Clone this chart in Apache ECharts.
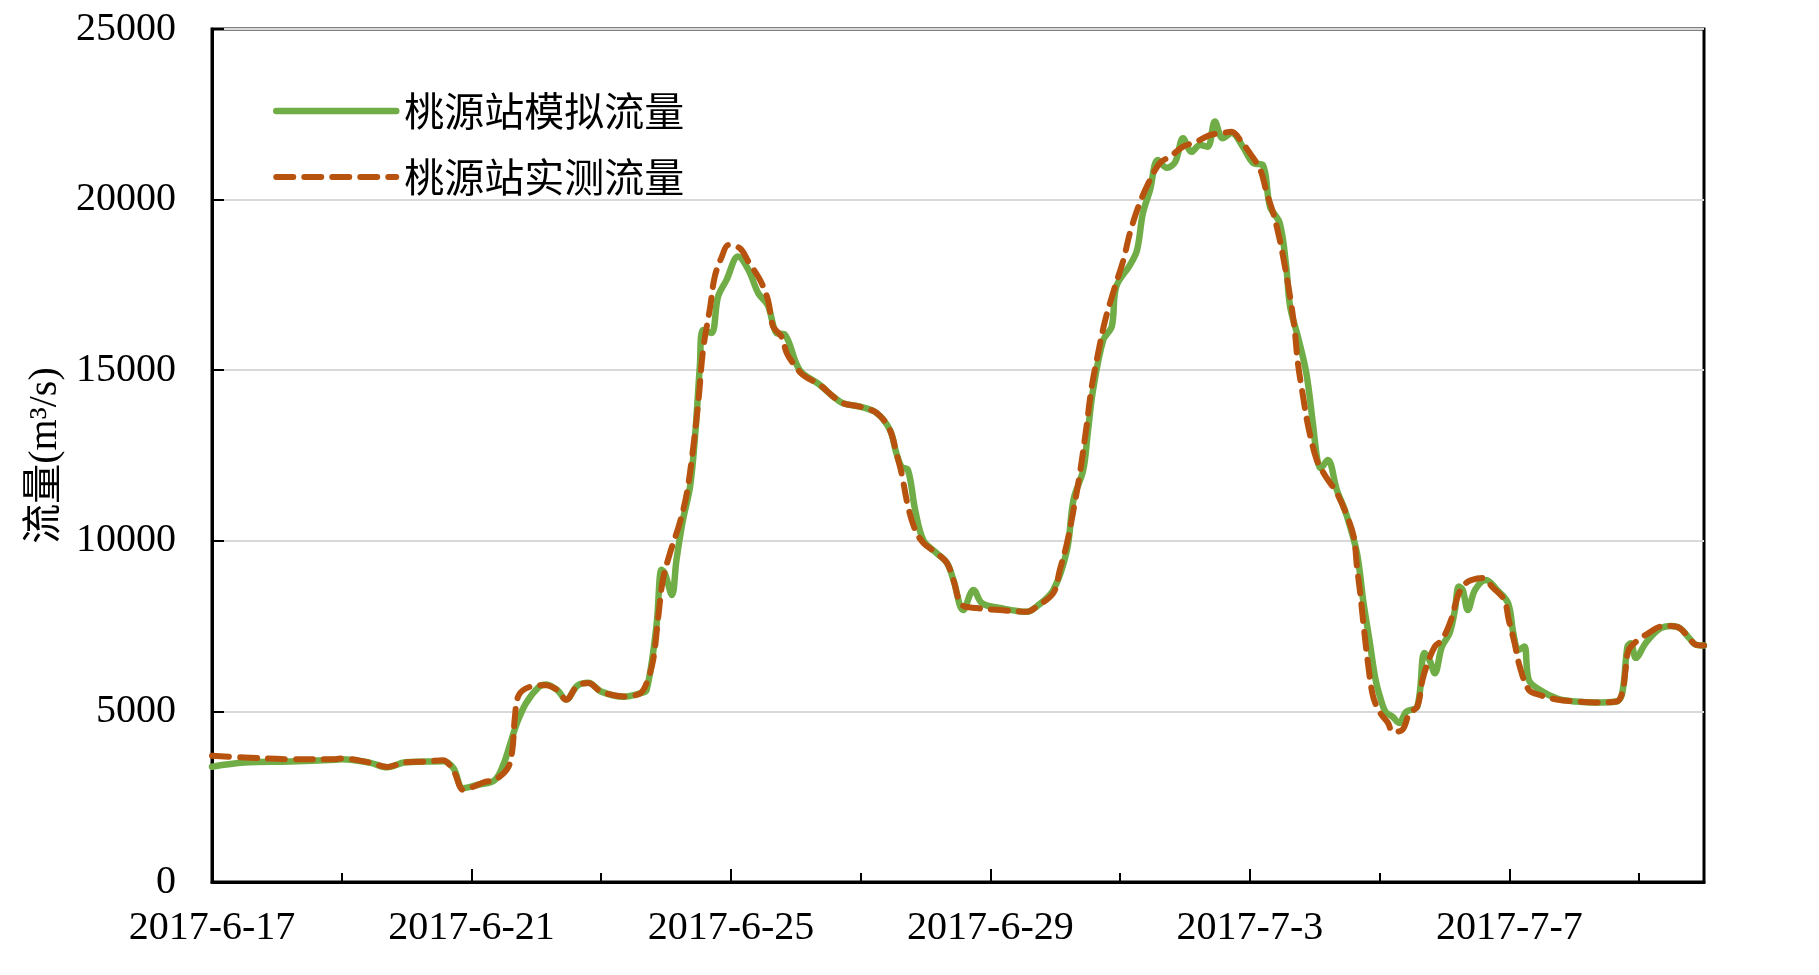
<!DOCTYPE html>
<html>
<head>
<meta charset="utf-8">
<script src="https://cdn.jsdelivr.net/npm/echarts@6/dist/echarts.min.js"></script>
<style>html,body{margin:0;padding:0;background:#fff}#c{width:1819px;height:975px}</style>
</head>
<body>
<div id="c"></div>
<script>
// x values are days since 2017-6-17 00:00
const xTickLabels = ['2017-6-17','2017-6-21','2017-6-25','2017-6-29','2017-7-3','2017-7-7'];
const yTicks = [0, 5000, 10000, 15000, 20000, 25000];
const seriesNames = ['桃源站模拟流量', '桃源站实测流量'];

const simDays = [0,0.5,1.2,1.9,2.0,2.43,2.7,2.98,3.3,3.56,3.72,3.87,4.1,4.36,4.5,4.6,4.7,4.84,5.04,5.15,5.32,5.46,5.63,5.8,6.0,6.35,6.6,6.7,6.85,6.93,6.98,7.09,7.16,7.26,7.37,7.45,7.52,7.57,7.7,7.8,7.93,8.11,8.27,8.42,8.57,8.7,8.83,9.06,9.37,9.58,9.73,9.99,10.25,10.45,10.55,10.63,10.73,10.84,10.97,11.17,11.33,11.43,11.58,11.74,11.87,12.15,12.56,12.71,12.97,13.18,13.28,13.43,13.5,13.58,13.74,13.87,13.94,14.15,14.26,14.35,14.46,14.58,14.72,14.85,14.97,15.1,15.23,15.35,15.46,15.58,15.72,15.89,16.05,16.2,16.31,16.46,16.56,16.62,16.74,16.87,16.97,17.04,17.09,17.2,17.34,17.48,17.65,17.75,17.85,17.93,18.01,18.09,18.2,18.3,18.41,18.58,18.69,18.77,18.85,18.96,19.08,19.16,19.22,19.28,19.36,19.47,19.64,19.81,19.98,20.06,20.14,20.23,20.3,20.47,20.75,21.03,21.31,21.65,21.74,21.82,21.87,21.95,22.1,22.3,22.49,22.63,22.77,22.88,23.0];
const simFlow = [3380,3500,3530,3580,3600,3500,3360,3510,3530,3540,3340,2750,2850,2990,3480,4070,4650,5240,5720,5790,5630,5340,5750,5840,5580,5430,5530,5630,7480,9150,9050,8410,9440,10610,11590,13150,15100,16180,16090,17150,17640,18330,17940,17260,16900,16090,16040,15000,14570,14220,14030,13930,13740,13250,12570,12170,12070,10900,10000,9640,9350,8850,7970,8560,8170,8030,7920,8070,8560,9730,11200,12070,13150,14400,15890,16280,17450,18080,18520,19600,20280,21160,20930,21110,21800,21400,21600,21550,22290,21800,21950,21550,21070,21010,19790,19310,18030,16860,15980,14910,13450,12370,12130,12370,11490,10810,9640,8200,7000,6000,5400,4990,4840,4660,4990,5140,6710,6500,6120,6900,7300,7970,8660,8560,7970,8560,8850,8560,8170,7300,6800,6900,5920,5630,5370,5290,5260,5290,5540,6900,7000,6570,7000,7400,7500,7440,7150,6950,6930];

const obsDays = [0,0.5,1.2,1.9,2.0,2.43,2.7,2.98,3.3,3.56,3.73,3.87,3.97,4.22,4.36,4.56,4.63,4.67,4.73,4.9,5.15,5.32,5.46,5.63,5.8,6.0,6.35,6.6,6.7,6.8,6.88,6.95,7.06,7.21,7.32,7.42,7.5,7.57,7.68,7.75,7.86,7.96,8.14,8.27,8.45,8.57,8.65,8.78,8.86,8.96,9.11,9.37,9.58,9.73,9.99,10.25,10.45,10.55,10.63,10.73,10.84,10.97,11.17,11.33,11.43,11.56,11.79,12.15,12.56,12.71,12.97,13.07,13.18,13.28,13.38,13.48,13.56,13.66,13.77,13.92,14.05,14.15,14.28,14.41,14.61,14.77,14.97,15.18,15.38,15.54,15.72,15.85,16.0,16.16,16.26,16.36,16.46,16.54,16.62,16.69,16.74,16.82,16.9,17.03,17.17,17.34,17.48,17.6,17.65,17.7,17.76,17.82,17.9,18.01,18.13,18.2,18.35,18.46,18.58,18.66,18.74,18.85,18.96,19.1,19.22,19.33,19.41,19.58,19.75,19.92,19.99,20.08,20.16,20.3,20.47,20.75,21.03,21.31,21.65,21.74,21.79,21.84,21.98,22.15,22.32,22.49,22.63,22.77,22.88,23.0];
const obsFlow = [3700,3650,3600,3600,3620,3500,3370,3510,3530,3570,3230,2700,2750,2940,2990,3340,3870,4850,5480,5720,5770,5630,5340,5750,5830,5580,5440,5530,5830,6500,7780,8850,9640,10520,11400,12760,14130,15590,16860,17740,18330,18670,18570,18180,17640,17060,16280,15980,15500,15200,14860,14570,14220,14030,13930,13740,13250,12570,11980,11000,10320,9930,9640,9350,8850,8120,8030,7970,7920,8070,8470,9150,9930,10900,11990,13340,14500,15500,16470,17450,18230,19020,19790,20380,21070,21260,21550,21700,21890,21940,21990,21750,21360,20870,20190,19600,18820,18030,17150,16180,15200,14220,13340,12370,11880,11400,10810,10120,9240,8460,7390,6410,5430,4950,4660,4400,4460,4950,5140,5920,6410,6900,7090,7680,8460,8760,8850,8910,8620,8270,7680,7000,6310,5630,5480,5340,5290,5260,5290,5540,6210,6800,7090,7300,7480,7500,7440,7150,6950,6930];

const simData = simDays.map((d, i) => [d, simFlow[i]]);
const obsData = obsDays.map((d, i) => [d, obsFlow[i]]);

const serif = 'Liberation Serif, "Times New Roman", "Noto Sans CJK SC", serif';
const cjk = '"Noto Sans CJK SC", "Liberation Serif", serif';
const green = '#70AD47';
const brown = '#B8530F';
const simLine = {color: green, width: 6.5, cap: 'round', join: 'round'};
const obsLine = {color: brown, width: 6, type: [17, 11], cap: 'round', join: 'round'};

const chart = echarts.init(document.getElementById('c'), null, {renderer: 'canvas'});
chart.setOption({
  animation: false,
  backgroundColor: '#fff',
  grid: {left: 212, right: 115, top: 29, bottom: 93, show: true, borderColor: '#000', borderWidth: 3, backgroundColor: 'transparent'},
  legend: {
    orient: 'vertical', left: 268, top: 86, itemWidth: 120, itemHeight: 20, itemGap: 26,
    textStyle: {fontFamily: cjk, fontSize: 40, color: '#000', padding: [0, 0, 0, 3]},
    itemStyle: {opacity: 0},
    data: [
      {name: seriesNames[0], lineStyle: simLine, itemStyle: {opacity: 0}},
      {name: seriesNames[1], lineStyle: obsLine, itemStyle: {opacity: 0}}
    ]
  },
  xAxis: [{
    type: 'value', min: 0, max: 23, interval: 2, position: 'bottom',
    axisLine: {lineStyle: {color: '#000', width: 3}},
    axisTick: {inside: true, length: 9, lineStyle: {color: '#000', width: 2}},
    axisLabel: {show: false}, splitLine: {show: false}
  }, {
    type: 'value', min: 0, max: 23, interval: 4, position: 'bottom',
    axisLine: {show: false},
    axisTick: {inside: true, length: 13, lineStyle: {color: '#000', width: 2}},
    axisLabel: {
      margin: 26, fontFamily: serif, fontSize: 40, color: '#000',
      formatter: v => (v % 4 === 0 && xTickLabels[v / 4]) ? xTickLabels[v / 4] : ''
    },
    splitLine: {show: false}
  }],
  yAxis: {
    type: 'value', min: yTicks[0], max: yTicks[yTicks.length - 1], interval: 5000,
    name: '流量(m³/s)', nameLocation: 'middle', nameGap: 145, nameRotate: 90,
    nameTextStyle: {fontFamily: serif, fontSize: 40, color: '#000'},
    axisLine: {show: true, lineStyle: {color: '#000', width: 3}},
    axisTick: {show: true, inside: true, length: 12, lineStyle: {color: '#000', width: 2}},
    axisLabel: {margin: 36, fontFamily: serif, fontSize: 40, color: '#000', formatter: v => String(v)},
    splitLine: {show: true, lineStyle: {color: '#D9D9D9', width: 2}}
  },
  series: [{
    name: seriesNames[0], type: 'line', data: simData, showSymbol: false, symbol: 'none',
    smooth: 0.35, lineStyle: simLine, itemStyle: {color: green}, z: 2
  }, {
    name: seriesNames[1], type: 'line', data: obsData, showSymbol: false, symbol: 'none',
    smooth: 0.35, lineStyle: obsLine, itemStyle: {color: brown}, z: 3
  }]
});
</script>
</body>
</html>
